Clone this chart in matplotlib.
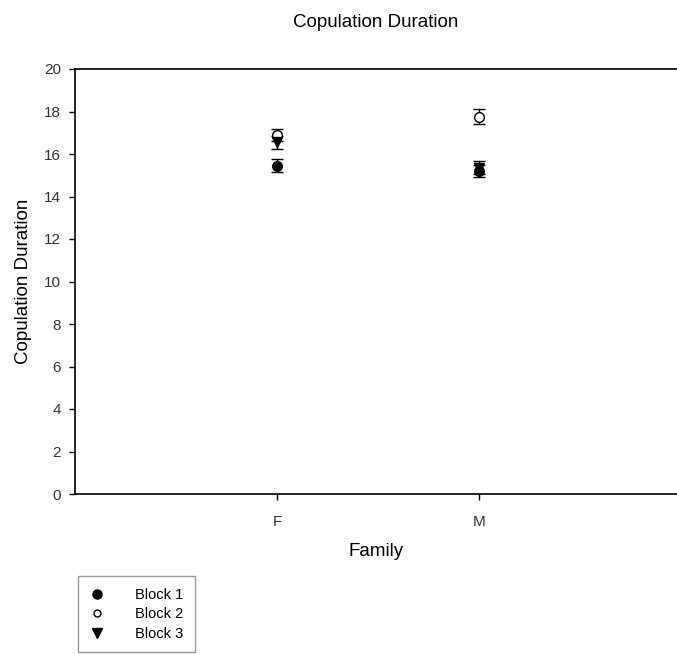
import numpy as np
import matplotlib.pyplot as plt
from matplotlib.lines import Line2D

plt.rcParams['font.family'] = ['Liberation Sans', 'DejaVu Sans']

families = ["F", "M"]
block1 = [15.45, 15.2]
block1_err = [0.3, 0.3]
block2 = [16.9, 17.75]
block2_err = [0.3, 0.35]
block3 = [16.55, 15.35]
block3_err = [0.3, 0.3]

fig = plt.figure(figsize=(6.77, 6.54), dpi=100)
ax = fig.add_axes([75 / 677, 1 - 494 / 654, 1 - 75 / 677, 425 / 654])

x = np.arange(1, len(families) + 1)
ax.errorbar(x, block1, yerr=block1_err, fmt='o', color='black', ms=7,
            capsize=4, elinewidth=1, capthick=1)
ax.errorbar(x, block2, yerr=block2_err, fmt='o', mfc='white', mec='black',
            color='black', ms=7, capsize=4, elinewidth=1, capthick=1)
ax.errorbar(x, block3, yerr=block3_err, fmt='v', color='black', ms=7.5,
            capsize=4, elinewidth=1, capthick=1)

ax.set_xlim(0, 2.98)
ax.set_ylim(0, 20)
ax.set_xticks(x)
ax.set_xticklabels(families)
ax.set_yticks(np.arange(0, 21, 2))
ax.tick_params(labelsize=11, length=4, width=1, direction='out',
               labelcolor='#333333')
ax.tick_params(axis='y', pad=6)
ax.tick_params(axis='x', pad=11)
ax.spines['right'].set_visible(False)
for s in ['left', 'bottom', 'top']:
    ax.spines[s].set_linewidth(1.2)

ax.set_xlabel('Family', fontsize=13.5, labelpad=10)
ax.set_ylabel('Copulation Duration', fontsize=13.5, labelpad=9)
ax.set_title('Copulation Duration', fontsize=13.5, pad=30)

handles = [
    Line2D([], [], ls='none', marker='o', color='black', ms=6.5),
    Line2D([], [], ls='none', marker='o', mfc='white', mec='black', ms=5),
    Line2D([], [], ls='none', marker='v', color='black', ms=6.5),
]
fig.legend(handles, ['Block 1', 'Block 2', 'Block 3'],
           loc='upper left', bbox_to_anchor=(78 / 677, 1 - 576 / 654),
           fontsize=10.5, frameon=True, fancybox=False, edgecolor='gray',
           handletextpad=2.1, borderpad=0.8, labelspacing=0.38,
           handlelength=1.0, borderaxespad=0)

fig.savefig('out.png', dpi=100)
